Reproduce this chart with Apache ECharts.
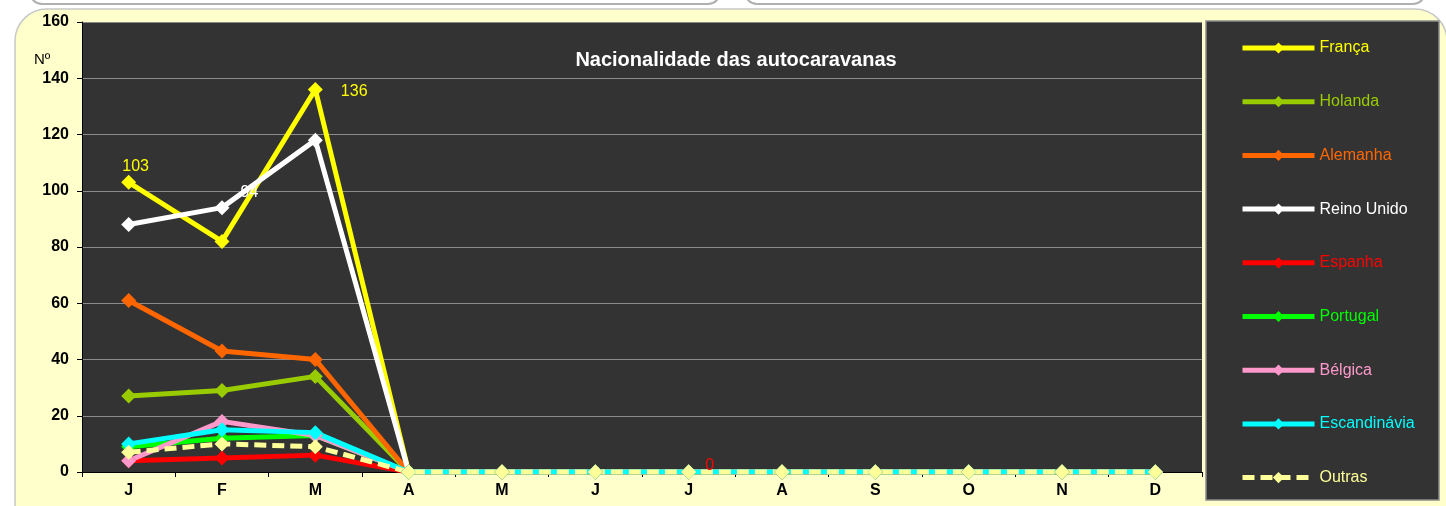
<!DOCTYPE html>
<html lang="pt">
<head>
  <meta charset="UTF-8">
  <title>Nacionalidade das autocaravanas</title>
  <script src="https://cdn.jsdelivr.net/npm/echarts@6/dist/echarts.min.js"></script>
  <style>
    html, body { margin: 0; padding: 0; background: #ffffff; }
    #main { width: 1446px; height: 506px; }
  </style>
</head>
<body>
<div id="main"></div>
<script>
  // meses
  var months = ['J', 'F', 'M', 'A', 'M', 'J', 'J', 'A', 'S', 'O', 'N', 'D'];
  var yTicks = [0, 20, 40, 60, 80, 100, 120, 140, 160];

  // valores
  var franca       = [103, 82, 136, 0, 0, 0, 0, 0, 0, 0, 0, 0];
  var holanda      = [27, 29, 34, 0, 0, 0, 0, 0, 0, 0, 0, 0];
  var alemanha     = [61, 43, 40, 0, 0, 0, 0, 0, 0, 0, 0, 0];
  var reinoUnido   = [88, 94, 118, 0, 0, 0, 0, 0, 0, 0, 0, 0];
  var espanha      = [4, 5, 6, 0, 0, 0, 0, 0, 0, 0, 0, 0];
  var portugal     = [9, 12, 13, 0, 0, 0, 0, 0, 0, 0, 0, 0];
  var belgica      = [4, 18, 13, 0, 0, 0, 0, 0, 0, 0, 0, 0];
  var escandinavia = [10, 15, 14, 0, 0, 0, 0, 0, 0, 0, 0, 0];
  var outras       = [7, 10, 9, 0, 0, 0, 0, 0, 0, 0, 0, 0];

  var seriesNames  = ['França', 'Holanda', 'Alemanha', 'Reino Unido', 'Espanha', 'Portugal', 'Bélgica', 'Escandinávia', 'Outras'];
  var seriesColors = ['#ffff00', '#99cc00', '#ff6600', '#ffffff', '#ff0000', '#00ff00', '#ff99cc', '#00ffff', '#ffff99'];
  var seriesData   = [franca, holanda, alemanha, reinoUnido, espanha, portugal, belgica, escandinavia, outras];

  // rótulos de valores mostrados em alguns pontos: [série, índice, posição, deslocamento]
  var pointLabels = [
    [0, 0, 'top', [7, 6]],
    [0, 2, 'right', [4, 2]],
    [3, 1, 'right', [-3, -15]],
    [4, 6, 'right', [-5, -6]]
  ];

  var FONT = '"Liberation Sans", Arial, sans-serif';

  function buildSeries() {
    return seriesNames.map(function (name, i) {
      var data = seriesData[i].map(function (v, k) {
        var item = { value: v };
        pointLabels.forEach(function (p) {
          if (p[0] === i && p[1] === k) {
            item.label = {
              show: true,
              position: p[2],
              distance: p[2] === 'top' ? 6 : 14,
              offset: p[3],
              color: seriesColors[i],
              fontFamily: FONT,
              fontSize: 16
            };
          }
        });
        return item;
      });
      return {
        name: name,
        type: 'line',
        data: data,
        symbol: 'diamond',
        symbolSize: 15,
        color: seriesColors[i],
        lineStyle: {
          width: 5,
          color: seriesColors[i],
          type: name === 'Outras' ? [12, 6] : 'solid'
        },
        itemStyle: { color: seriesColors[i] },
        label: { show: false },
        emphasis: { disabled: true },
        animation: false
      };
    });
  }

  var myChart = echarts.init(document.getElementById('main'));
  var option = {
    backgroundColor: '#ffffff',
    textStyle: { fontFamily: FONT },
    title: {
      text: 'Nacionalidade das autocaravanas',
      left: 731,
      textAlign: 'center',
      top: 45,
      textStyle: { color: '#ffffff', fontSize: 20, fontWeight: 'bold', fontFamily: FONT }
    },
    graphic: [
      { type: 'rect', z: -10, shape: { x: 30, y: -40, width: 690, height: 44, r: 12 },
        style: { fill: '#ffffff', stroke: '#b0b0b0', lineWidth: 2 } },
      { type: 'rect', z: -10, shape: { x: 745, y: -40, width: 680, height: 44, r: 12 },
        style: { fill: '#ffffff', stroke: '#b0b0b0', lineWidth: 2 } },
      { type: 'rect', z: -10, shape: { x: 15, y: 9, width: 1432, height: 540, r: 32 },
        style: { fill: '#ffffcc', stroke: '#c8c8c8', lineWidth: 1.5 } },
      { type: 'rect', z: -5, shape: { x: 1206, y: 21, width: 233, height: 479 },
        style: { fill: '#333333', stroke: '#8c8c8c', lineWidth: 1.5 } },
      { type: 'text', left: 34, top: 52,
        style: { text: 'Nº', fill: '#000000', fontSize: 15, fontFamily: FONT } }
    ],
    legend: {
      orient: 'vertical',
      left: 1235,
      top: 35,
      itemWidth: 72,
      itemHeight: 14,
      itemGap: 37.7,
      selectedMode: false,
      lineStyle: { width: 5 },
      data: seriesNames.map(function (n, i) {
        return { name: n, textStyle: { color: seriesColors[i], fontSize: 16, fontFamily: FONT, lineHeight: 14 } };
      })
    },
    grid: {
      left: 82,
      top: 22,
      width: 1120,
      height: 450,
      show: true,
      backgroundColor: '#333333',
      borderWidth: 0
    },
    xAxis: {
      type: 'category',
      data: months,
      boundaryGap: true,
      axisLine: { lineStyle: { color: '#000000', width: 1 } },
      axisTick: { show: true, length: 5, lineStyle: { color: '#000000' } },
      axisLabel: { color: '#000000', fontWeight: 'bold', fontSize: 16, margin: 11, fontFamily: FONT },
      splitLine: { show: false }
    },
    yAxis: {
      type: 'value',
      min: yTicks[0],
      max: yTicks[yTicks.length - 1],
      interval: 20,
      axisLine: { show: true, lineStyle: { color: '#000000', width: 1 } },
      axisTick: { show: true, length: 5, lineStyle: { color: '#000000' } },
      axisLabel: { color: '#000000', fontWeight: 'bold', fontSize: 16, margin: 13, fontFamily: FONT },
      splitLine: { show: true, lineStyle: { color: '#8c8c8c', width: 1 } }
    },
    series: buildSeries()
  };
  myChart.setOption(option);
</script>
</body>
</html>
